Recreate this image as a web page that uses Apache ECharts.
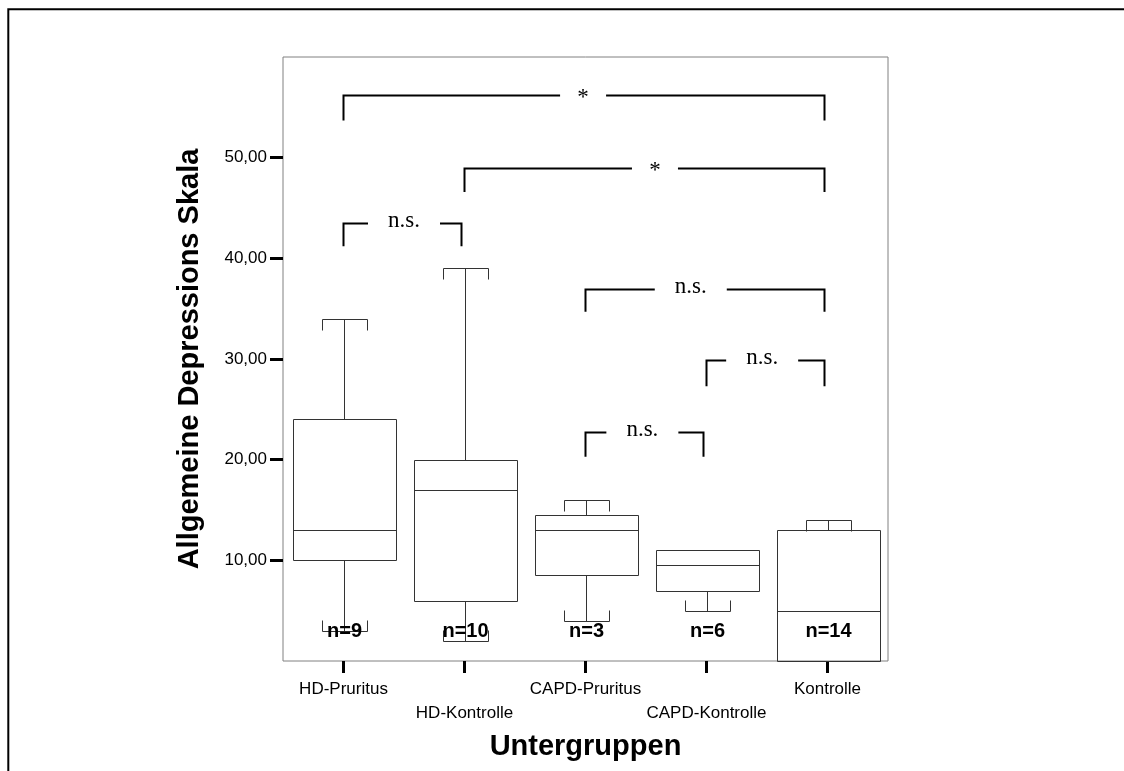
<!DOCTYPE html>
<html>
<head>
<meta charset="utf-8">
<script src="https://cdn.jsdelivr.net/npm/echarts@6/dist/echarts.min.js"></script>
<style>
html,body{margin:0;padding:0;background:#fff;}
#chart{width:1124px;height:771px;}
</style>
</head>
<body>
<div id="chart"></div>
<script>
// ---- data ----
const categories = ['HD-Pruritus', 'HD-Kontrolle', 'CAPD-Pruritus', 'CAPD-Kontrolle', 'Kontrolle'];
const whiskerLow  = [3, 2, 4, 5, 0];
const quartile1   = [10, 6, 8.5, 7, 0];
const medians     = [13, 17, 13, 9.5, 5];
const quartile3   = [24, 20, 14.5, 11, 13];
const whiskerHigh = [34, 39, 16, 11, 14];
const sampleSizes = ['n=9', 'n=10', 'n=3', 'n=6', 'n=14'];
const yTickValues = [10, 20, 30, 40, 50];

// significance brackets
const bracketFrom    = [0, 1, 0, 2, 3, 2];
const bracketTo      = [4, 4, 1, 4, 4, 3];
const bracketTop     = [56.2, 48.95, 43.5, 37.0, 29.9, 22.75];
const bracketLeg     = [53.7, 46.6, 41.2, 34.7, 27.3, 20.3];
const bracketLabelAt = [1.98, 2.574, 0.5, 2.87, 3.46, 2.47];
const bracketLabels  = ['*', '*', 'n.s.', 'n.s.', 'n.s.', 'n.s.'];

const SANS = 'Liberation Sans, Arial, sans-serif';
const SERIF = 'Liberation Serif, Times New Roman, serif';

const boxData = categories.map((c, i) => [i, whiskerLow[i], quartile1[i], medians[i], quartile3[i], whiskerHigh[i]]);
const bracketData = bracketFrom.map((f, i) => [f, bracketTo[i], bracketTop[i], bracketLeg[i], bracketLabelAt[i]]);

const crisp = v => Math.round(v) + 0.5;

function renderBox(params, api) {
  const i = api.value(0);
  const lo = api.value(1), q1 = api.value(2), md = api.value(3), q3 = api.value(4), hi = api.value(5);
  const cx = crisp(api.coord([i, 0])[0]);
  const band = api.size([1, 0])[0];
  const bw = band * 0.845, cw = band * 0.38;
  const y = v => crisp(api.coord([i, v])[1]);
  const ls = { stroke: '#333', lineWidth: 1, fill: null };
  const children = [];
  const line = (x1, y1, x2, y2) => children.push({ type: 'line', shape: { x1, y1, x2, y2 }, style: ls });
  const xl = crisp(cx - bw / 2), xr = crisp(cx + bw / 2);
  const cl = crisp(cx - cw / 2), cr = crisp(cx + cw / 2);
  const capTick = 11;
  if (hi > q3) {
    line(cx, y(q3), cx, y(hi));
    line(cl, y(hi), cr, y(hi));
    line(cl, y(hi), cl, y(hi) + capTick);
    line(cr, y(hi), cr, y(hi) + capTick);
  }
  if (lo < q1) {
    line(cx, y(q1), cx, y(lo));
    line(cl, y(lo), cr, y(lo));
    line(cl, y(lo), cl, y(lo) - capTick);
    line(cr, y(lo), cr, y(lo) - capTick);
  }
  children.push({ type: 'rect', shape: { x: xl, y: y(q3), width: xr - xl, height: y(q1) - y(q3) }, style: ls });
  line(xl, y(md), xr, y(md));
  children.push({
    type: 'text',
    style: {
      x: cx, y: api.coord([i, 0])[1] - 30,
      text: sampleSizes[params.dataIndex],
      font: 'bold 20px ' + SANS, fill: '#000',
      align: 'center', verticalAlign: 'middle'
    }
  });
  return { type: 'group', children };
}

function renderBracket(params, api) {
  const f = api.value(0), t = api.value(1), top = api.value(2), leg = api.value(3), at = api.value(4);
  const band = api.size([1, 0])[0];
  const x1 = crisp(api.coord([f, top])[0] - 1);
  const x2 = crisp(api.coord([t, top])[0] - 4);
  const yt = crisp(api.coord([f, top])[1]);
  const yl = api.coord([f, leg])[1];
  const a = Math.floor(at);
  const lx = api.coord([a, top])[0] + (at - a) * band;
  const label = bracketLabels[params.dataIndex];
  const gap = label === '*' ? 23 : 36;
  const dy = label === '*' ? 2 : -3;
  const ls = { stroke: '#000', lineWidth: 2, fill: null };
  return {
    type: 'group',
    children: [
      { type: 'polyline', shape: { points: [[x1, yl], [x1, yt], [lx - gap, yt]] }, style: ls },
      { type: 'polyline', shape: { points: [[lx + gap, yt], [x2, yt], [x2, yl]] }, style: ls },
      { type: 'text', style: { x: lx, y: yt + dy, text: label, font: '23px ' + SERIF, fill: '#000', align: 'center', verticalAlign: 'middle' } }
    ]
  };
}

const chart = echarts.init(document.getElementById('chart'), null, { renderer: 'canvas' });
chart.setOption({
  backgroundColor: '#fff',
  animation: false,
  graphic: [{
    type: 'rect', silent: true,
    shape: { x: 8.3, y: 9.3, width: 1300, height: 900 },
    style: { fill: null, stroke: '#000', lineWidth: 2 }
  }],
  grid: {
    left: 283, top: 57, right: 236, bottom: 110,
    show: true, borderColor: '#808080', borderWidth: 1, backgroundColor: '#fff'
  },
  xAxis: {
    type: 'category',
    data: categories,
    boundaryGap: true,
    axisLine: { show: false },
    axisTick: { show: true, alignWithLabel: true, length: 12, lineStyle: { color: '#000', width: 3 } },
    axisLabel: {
      interval: 0, margin: 16, color: '#000', fontSize: 17, fontFamily: SANS, lineHeight: 24,
      formatter: (v, idx) => (idx % 2 ? '\n' + v : v)
    },
    splitLine: { show: false },
    name: 'Untergruppen',
    nameLocation: 'middle',
    nameGap: 71,
    nameTextStyle: { fontSize: 29, fontWeight: 'bold', fontFamily: SANS, color: '#000' }
  },
  yAxis: {
    type: 'value',
    min: 0, max: 60, interval: 10,
    axisLine: { show: false },
    axisTick: { show: true, length: 13, customValues: yTickValues, lineStyle: { color: '#000', width: 3 } },
    axisLabel: {
      margin: 16, color: '#000', fontSize: 17, fontFamily: SANS, customValues: yTickValues,
      formatter: v => v.toFixed(2).replace('.', ',')
    },
    splitLine: { show: false },
    name: 'Allgemeine Depressions Skala',
    nameLocation: 'middle',
    nameGap: 79,
    nameTextStyle: { fontSize: 29, fontWeight: 'bold', fontFamily: SANS, color: '#000' }
  },
  series: [
    {
      type: 'custom', name: 'boxes', renderItem: renderBox,
      data: boxData, encode: { x: 0, y: [1, 2, 3, 4, 5] }, clip: false, z: 2
    },
    {
      type: 'custom', name: 'brackets', renderItem: renderBracket,
      data: bracketData, encode: { x: [0, 1], y: [2, 3] }, clip: false, z: 3
    }
  ]
});
</script>
</body>
</html>
